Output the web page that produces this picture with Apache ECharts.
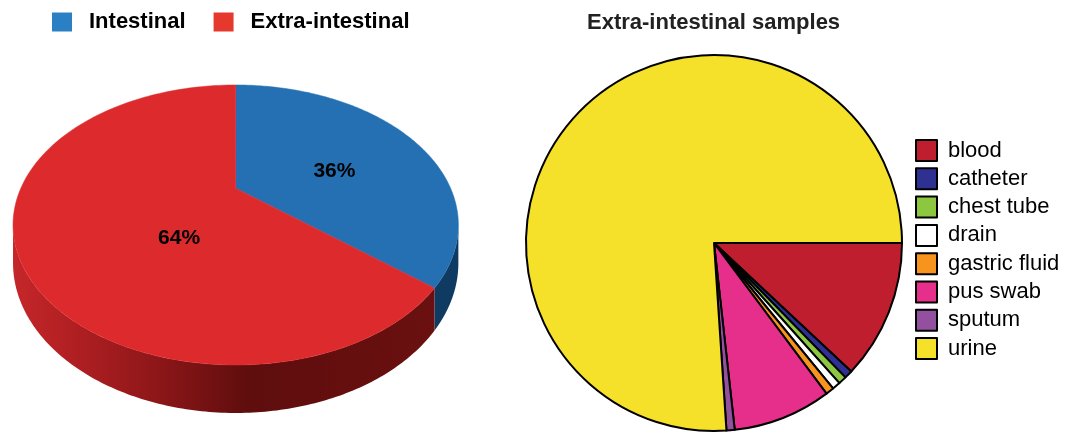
<!DOCTYPE html>
<html>
<head>
<meta charset="utf-8">
<script src="https://cdn.jsdelivr.net/npm/echarts@6/dist/echarts.min.js"></script>
<style>
  html, body { margin: 0; padding: 0; background: #ffffff; }
  #chart { width: 1081px; height: 435px; }
</style>
</head>
<body>
<div id="chart"></div>
<script>
// Origin of isolates (percent)
const originNames = ['Intestinal', 'Extra-intestinal'];
const originValues = [36, 64];
const originTopColors = ['#2470b3', '#dd2a2c'];
const originLegendColors = ['#2a80c2', '#e5392e'];

// Extra-intestinal sample types (number of isolates)
const sampleNames = ['blood', 'catheter', 'chest tube', 'drain', 'gastric fluid', 'pus swab', 'sputum', 'urine'];
const sampleValues = [17, 1, 1, 1, 1, 12, 1, 108];
const sampleColors = ['#be1e2d', '#2e3192', '#8dc63f', '#ffffff', '#f7941d', '#e62e8b', '#92509f', '#f5e02a'];

const FONT = '"Liberation Sans", Arial, Helvetica, sans-serif';

// Perspective view of the tilted disc used for the left pie
const DISC = { cx: 235.7, cy: 188.3, a: 214.9, b: 130.4, p: 0.262, h: 35.4 };
// Percent labels sit a little up-left of each face's centroid
const LABEL_SHIFT = [-12, -6];

// theta: angle from 12 o'clock, clockwise; f: radius fraction; drop: bottom rim
function proj(theta, f, drop) {
  const u = Math.sin(theta) * f;
  const v = -Math.cos(theta) * f;
  const w = 1 - DISC.p * v;
  return [DISC.cx + DISC.a * u / w, DISC.cy + DISC.b * v / w + (drop ? DISC.h / w : 0)];
}

function polygonCentroid(pts) {
  let A = 0, cx = 0, cy = 0;
  for (let i = 0; i < pts.length; i++) {
    const [x0, y0] = pts[i];
    const [x1, y1] = pts[(i + 1) % pts.length];
    const c = x0 * y1 - x1 * y0;
    A += c; cx += (x0 + x1) * c; cy += (y0 + y1) * c;
  }
  A /= 2;
  return [cx / (6 * A), cy / (6 * A)];
}

const originTotal = originValues.reduce((s, v) => s + v, 0);
const wallFrom = Math.acos(-DISC.p);
const wallTo = 2 * Math.PI - wallFrom;

const redWall = new echarts.graphic.LinearGradient(12, 0, 434, 0, [
  { offset: 0, color: '#c5272a' },
  { offset: 0.15, color: '#b01f22' },
  { offset: 0.35, color: '#8c1618' },
  { offset: 0.56, color: '#5f0d0d' },
  { offset: 1, color: '#6a1010' }
], true);
const wallFills = ['#0f3a62', redWall];

function sliceRenderer(idx) {
  return function (params, api) {
    const before = originValues.slice(0, idx).reduce((s, v) => s + v, 0);
    const start = before / originTotal * 2 * Math.PI;
    const end = start + api.value(0) / originTotal * 2 * Math.PI;
    const children = [];
    const N = 160;

    const ws = Math.max(start, wallFrom), we = Math.min(end, wallTo);
    if (we > ws) {
      const upper = [], lower = [];
      for (let k = 0; k <= N; k++) {
        const t = ws + (we - ws) * k / N;
        upper.push(proj(t, 1, false));
        lower.push(proj(t, 1, true));
      }
      children.push({
        type: 'polygon',
        shape: { points: upper.concat(lower.reverse()) },
        style: { fill: wallFills[idx], stroke: null }
      });
    }

    const top = [proj(0, 0, false)];
    for (let k = 0; k <= N; k++) top.push(proj(start + (end - start) * k / N, 1, false));
    children.push({
      type: 'polygon',
      shape: { points: top },
      style: { fill: originTopColors[idx], stroke: originTopColors[idx], lineWidth: 0.5 }
    });

    const c = polygonCentroid(top);
    children.push({
      type: 'text',
      x: c[0] + LABEL_SHIFT[0], y: c[1] + LABEL_SHIFT[1],
      style: {
        text: Math.round(api.value(0) / originTotal * 100) + '%',
        font: 'bold 21px ' + FONT,
        fill: '#000000',
        align: 'center',
        verticalAlign: 'middle'
      }
    });
    return { type: 'group', children: children };
  };
}

const chart = echarts.init(document.getElementById('chart'), null, { renderer: 'canvas' });

chart.setOption({
  animation: false,
  backgroundColor: '#ffffff',
  title: {
    text: 'Extra-intestinal samples',
    left: 587, top: 12, padding: 0,
    textStyle: { fontFamily: FONT, fontSize: 22, fontWeight: 'bold', color: '#222222' }
  },
  legend: [
    {
      data: originNames.map((n, i) => ({ name: n, itemStyle: { color: originLegendColors[i] } })),
      orient: 'horizontal',
      left: 52, top: 11,
      padding: 0,
      itemWidth: 20, itemHeight: 19,
      itemGap: 28,
      icon: 'rect',
      selectedMode: false,
      textStyle: { fontFamily: FONT, fontSize: 22, fontWeight: 'bold', color: '#000000', padding: [0, 0, 0, 12] }
    },
    {
      data: sampleNames,
      orient: 'vertical',
      left: 915, top: 139,
      padding: 0,
      itemWidth: 21, itemHeight: 21,
      itemGap: 5.3,
      icon: 'rect',
      selectedMode: false,
      itemStyle: { borderColor: '#000000', borderWidth: 2 },
      textStyle: { fontFamily: FONT, fontSize: 22, color: '#000000', padding: [0, 0, 0, 6] }
    }
  ],
  series: originNames.map((name, i) => ({
    type: 'custom',
    name: name,
    coordinateSystem: 'none',
    silent: true,
    itemStyle: { color: originLegendColors[i] },
    renderItem: sliceRenderer(i),
    data: [[originValues[i]]]
  })).concat([{
    type: 'pie',
    name: 'Extra-intestinal samples',
    center: [714, 243],
    radius: 188,
    startAngle: 0,
    clockwise: true,
    silent: true,
    label: { show: false },
    labelLine: { show: false },
    itemStyle: { borderColor: '#000000', borderWidth: 2 },
    data: sampleNames.map((n, i) => ({ name: n, value: sampleValues[i], itemStyle: { color: sampleColors[i] } }))
  }])
});
</script>
</body>
</html>
